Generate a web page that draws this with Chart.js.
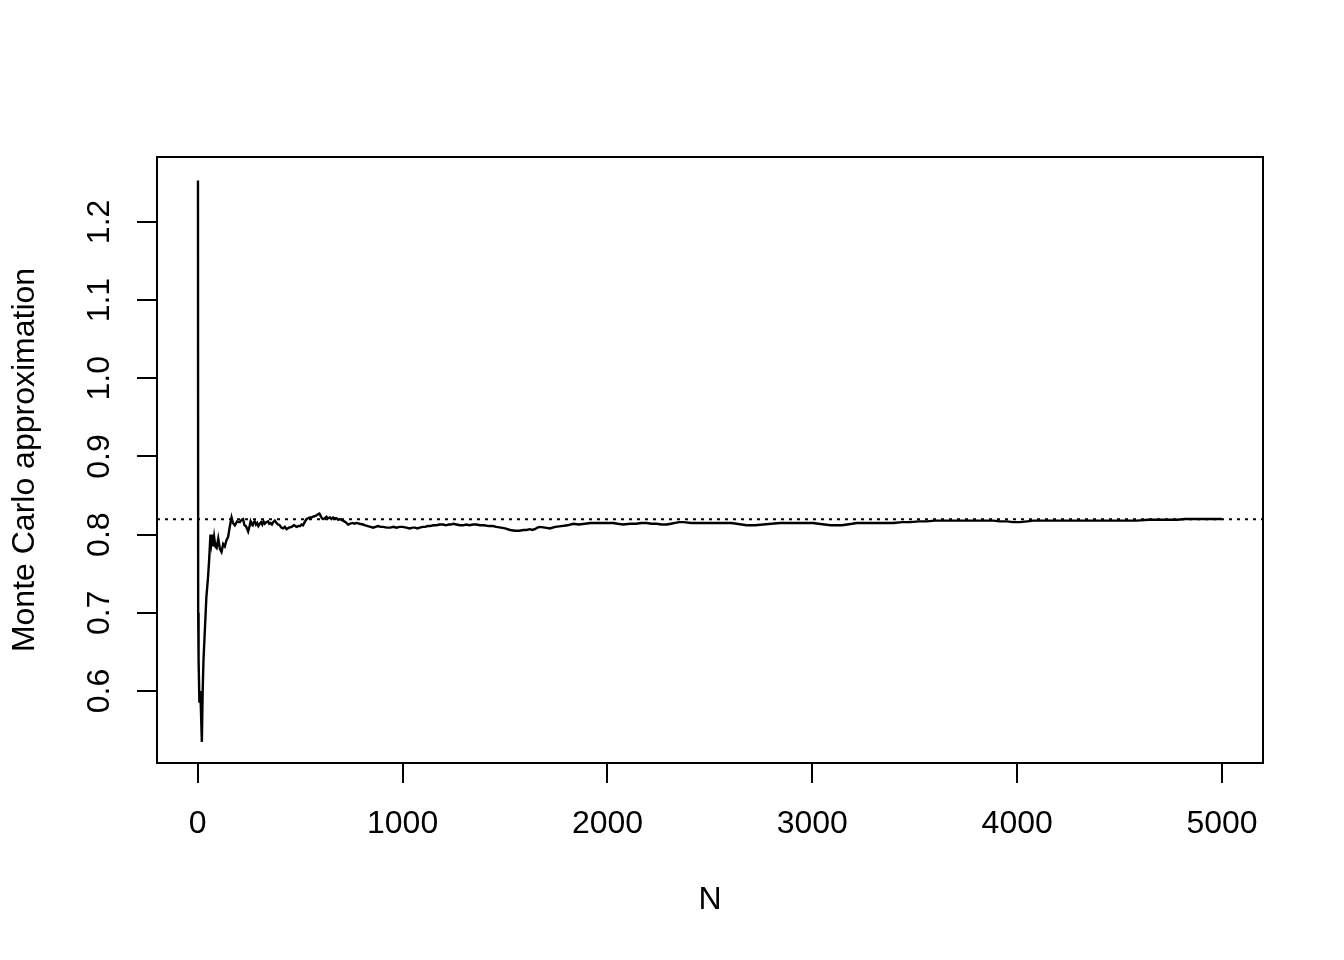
<!DOCTYPE html>
<html>
<head>
<meta charset="utf-8">
<script src="https://cdn.jsdelivr.net/npm/chart.js@4.4.1/dist/chart.umd.min.js"></script>
<style>
html, body { margin: 0; padding: 0; background: #ffffff; }
#wrap { width: 1344px; height: 960px; }
</style>
</head>
<body>
<div id="wrap"><canvas id="c" width="1344" height="960"></canvas></div>
<script>
// ---- data ----
const sampleSizes = [
  1, 2, 4, 8, 12, 15, 20, 24, 28, 35,
  42, 50, 56, 62, 66, 70, 75, 80, 86, 92,
  100, 108, 116, 124, 132, 140, 148, 156, 165, 172,
  181, 192, 205, 214, 221, 228, 235, 246, 253, 258,
  264, 268, 273, 278, 284, 290, 296, 303, 309, 315,
  321, 327, 335, 343, 349, 355, 362, 368, 376, 384,
  392, 400, 408, 416, 425, 433, 445, 458, 470, 482,
  491, 500, 507, 514, 522, 531, 539, 547, 555, 563,
  575, 587, 594, 600, 606, 612, 620, 628, 636, 645,
  652, 660, 668, 677, 685, 693, 701, 709, 722, 734,
  745, 755, 765, 775, 790, 807, 818, 830, 843, 856,
  868, 880, 893, 905, 922, 940, 955, 970, 985, 1000,
  1018, 1035, 1048, 1060, 1072, 1084, 1097, 1110, 1122, 1133,
  1150, 1165, 1181, 1198, 1212, 1225, 1236, 1247, 1263, 1279,
  1295, 1310, 1327, 1344, 1360, 1377, 1398, 1420, 1440, 1458,
  1480, 1500, 1525, 1548, 1570, 1590, 1605, 1621, 1633, 1645,
  1658, 1670, 1695, 1719, 1745, 1775, 1805, 1833, 1860, 1890,
  1918, 1947, 1990, 2028, 2050, 2077, 2110, 2140, 2165, 2191,
  2215, 2240, 2265, 2289, 2310, 2330, 2350, 2370, 2410, 2451,
  2485, 2520, 2550, 2581, 2605, 2630, 2655, 2679, 2720, 2760,
  2800, 2842, 2890, 2939, 2970, 3004, 3030, 3060, 3090, 3119,
  3145, 3170, 3195, 3216, 3240, 3270, 3300, 3330, 3360, 3395,
  3440, 3480, 3520, 3558, 3600, 3640, 3680, 3721, 3760, 3800,
  3840, 3883, 3915, 3950, 3980, 4014, 4050, 4080, 4110, 4144,
  4200, 4250, 4310, 4372, 4420, 4480, 4530, 4583, 4640, 4697,
  4740, 4780, 4820, 4860, 4900, 4930, 4965, 5000
];
const approximations = [
  1.253, 0.700, 0.640, 0.585, 0.600, 0.580, 0.535, 0.600, 0.640, 0.680,
  0.720, 0.745, 0.770, 0.800, 0.790, 0.800, 0.785, 0.797, 0.785, 0.783,
  0.795, 0.782, 0.778, 0.788, 0.785, 0.793, 0.797, 0.810, 0.822, 0.815,
  0.812, 0.817, 0.816, 0.819, 0.820, 0.812, 0.811, 0.804, 0.811, 0.817,
  0.813, 0.812, 0.816, 0.817, 0.813, 0.815, 0.811, 0.814, 0.816, 0.813,
  0.817, 0.814, 0.816, 0.817, 0.814, 0.815, 0.813, 0.816, 0.818, 0.815,
  0.813, 0.812, 0.809, 0.808, 0.810, 0.807, 0.809, 0.810, 0.812, 0.810,
  0.811, 0.811, 0.813, 0.812, 0.816, 0.820, 0.821, 0.822, 0.822, 0.823,
  0.824, 0.826, 0.827, 0.824, 0.821, 0.820, 0.821, 0.823, 0.821, 0.822,
  0.820, 0.822, 0.821, 0.821, 0.819, 0.820, 0.819, 0.818, 0.816, 0.813,
  0.814, 0.815, 0.814, 0.815, 0.814, 0.813, 0.812, 0.811, 0.810, 0.809,
  0.810, 0.811, 0.810, 0.810, 0.809, 0.809, 0.810, 0.809, 0.810, 0.810,
  0.809, 0.808, 0.809, 0.809, 0.808, 0.809, 0.810, 0.810, 0.811, 0.811,
  0.812, 0.812, 0.813, 0.813, 0.812, 0.813, 0.813, 0.814, 0.813, 0.812,
  0.812, 0.813, 0.812, 0.813, 0.813, 0.812, 0.812, 0.811, 0.811, 0.810,
  0.809, 0.808, 0.806, 0.805, 0.805, 0.806, 0.806, 0.807, 0.806, 0.807,
  0.809, 0.810, 0.809, 0.808, 0.810, 0.811, 0.812, 0.814, 0.813, 0.814,
  0.815, 0.815, 0.815, 0.815, 0.814, 0.813, 0.814, 0.814, 0.815, 0.815,
  0.814, 0.814, 0.813, 0.813, 0.814, 0.815, 0.816, 0.816, 0.815, 0.815,
  0.815, 0.815, 0.815, 0.815, 0.815, 0.814, 0.813, 0.812, 0.812, 0.813,
  0.814, 0.815, 0.815, 0.815, 0.815, 0.815, 0.814, 0.813, 0.812, 0.812,
  0.812, 0.813, 0.814, 0.815, 0.815, 0.815, 0.815, 0.815, 0.815, 0.815,
  0.816, 0.816, 0.817, 0.817, 0.818, 0.818, 0.818, 0.818, 0.818, 0.818,
  0.818, 0.818, 0.817, 0.817, 0.816, 0.816, 0.817, 0.818, 0.818, 0.818,
  0.818, 0.818, 0.818, 0.818, 0.818, 0.818, 0.818, 0.818, 0.819, 0.819,
  0.819, 0.819, 0.820, 0.820, 0.820, 0.820, 0.820, 0.820
];
const trueValue = 0.8197;
const xTickValues = [0, 1000, 2000, 3000, 4000, 5000];
const yTickValues = [0.6, 0.7, 0.8, 0.9, 1.0, 1.1, 1.2];
const xTitle = 'N';
const yTitle = 'Monte Carlo approximation';
const xRange = [-199, 5200];
const yRange = [0.508, 1.283];

// ---- chart ----
const FONT = '"Liberation Sans", Arial, Helvetica, sans-serif';
const FSIZE = 32;

const lineData = sampleSizes.map((n, i) => ({ x: n, y: approximations[i] }));
const refData = [{ x: xRange[0], y: trueValue }, { x: xRange[1], y: trueValue }];

const boxPlugin = {
  id: 'plotBox',
  afterDraw(chart) {
    const a = chart.chartArea;
    const ctx = chart.ctx;
    ctx.save();
    ctx.strokeStyle = '#000000';
    ctx.lineWidth = 2;
    ctx.strokeRect(a.left, a.top, a.right - a.left, a.bottom - a.top);
    ctx.restore();
  }
};

new Chart(document.getElementById('c'), {
  type: 'line',
  data: {
    datasets: [
      {
        data: lineData,
        borderColor: '#000000',
        borderWidth: 2.4,
        pointRadius: 0,
        tension: 0,
        fill: false
      },
      {
        data: refData,
        borderColor: '#000000',
        borderWidth: 2,
        borderDash: [3, 5],
        pointRadius: 0,
        tension: 0,
        fill: false
      }
    ]
  },
  options: {
    responsive: false,
    devicePixelRatio: 1,
    animation: false,
    events: [],
    layout: { padding: { top: 157, right: 81, left: 0, bottom: 0 } },
    plugins: {
      legend: { display: false },
      tooltip: { enabled: false },
      title: { display: false }
    },
    scales: {
      x: {
        type: 'linear',
        position: 'bottom',
        min: xRange[0],
        max: xRange[1],
        afterBuildTicks: s => { s.ticks = xTickValues.map(v => ({ value: v })); },
        afterFit: s => { s.height = 197; },
        grid: { display: true, drawOnChartArea: false, drawTicks: true, tickLength: 20, color: '#000000', lineWidth: 2 },
        border: { display: false },
        ticks: {
          autoSkip: false, maxRotation: 0, minRotation: 0, padding: 22,
          color: '#000000', font: { family: FONT, size: FSIZE },
          callback: v => String(v)
        },
        title: {
          display: true, text: xTitle, color: '#000000',
          font: { family: FONT, size: FSIZE },
          padding: { top: 0, bottom: 40.8 }
        }
      },
      y: {
        type: 'linear',
        position: 'left',
        min: yRange[0],
        max: yRange[1],
        afterBuildTicks: s => { s.ticks = yTickValues.map(v => ({ value: v })); },
        afterFit: s => { s.width = 157; },
        grid: { display: true, drawOnChartArea: false, drawTicks: true, tickLength: 20, color: '#000000', lineWidth: 2 },
        border: { display: false },
        ticks: {
          autoSkip: false, minRotation: 90, maxRotation: 90, crossAlign: 'center', padding: 15,
          color: '#000000', font: { family: FONT, size: FSIZE },
          callback: v => Number(v).toFixed(1)
        },
        title: {
          display: true, text: yTitle, color: '#000000',
          font: { family: FONT, size: FSIZE },
          padding: { top: 5.8, bottom: 0 }
        }
      }
    }
  },
  plugins: [boxPlugin]
});
</script>
</body>
</html>
